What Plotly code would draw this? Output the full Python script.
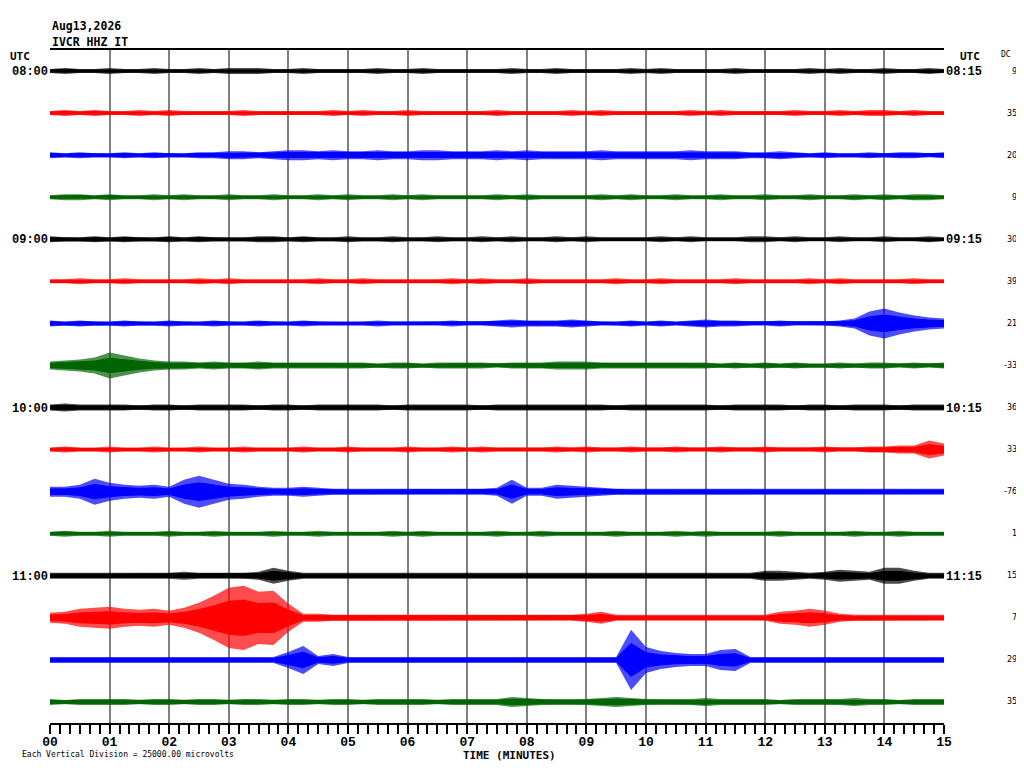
import numpy as np
import plotly.graph_objects as go

# helicorder: 16 lines of 15 minutes, IVCR HHZ IT, Aug13,2026 08:00-12:00 UTC
COLORS = ["#000000", "#ff0000", "#0000ff", "#006400"]
LEFT_LABELS = ["08:00", "09:00", "10:00", "11:00"]
RIGHT_LABELS = ["08:15", "09:15", "10:15", "11:15"]
DC = [9, 35, 20, 9, 30, 39, 21, -33, 36, 33, -76, 1, 15, 7, 29, 35]
MINUTE_TICKS = ["%02d" % m for m in range(16)]

# envelope half-amplitude every 15 s (61 values per line), 42 counts = 1 division
COUNTS_PER_DIV = 42.0
ENV = [
    # 08:00
    [2, 3, 2, 2, 3, 2, 2, 3, 2, 2, 3, 2, 3, 3, 3, 2, 2, 3, 2, 2, 2, 2, 3, 2, 2, 3, 2, 2, 2, 2, 2, 3,
     2, 2, 3, 2, 2, 2, 2, 3, 2, 3, 2, 2, 2, 2, 3, 2, 2, 2, 2, 3, 2, 3, 2, 2, 3, 2, 2, 3, 2],
    # 08:15
    [2, 3, 2, 3, 2, 2, 3, 2, 3, 2, 2, 2, 2, 3, 2, 2, 2, 2, 2, 3, 2, 3, 2, 2, 3, 2, 2, 2, 2, 2, 3, 2,
     2, 2, 2, 3, 2, 3, 2, 2, 2, 2, 2, 3, 2, 3, 2, 2, 2, 2, 3, 2, 2, 3, 2, 3, 3, 2, 3, 2, 2],
    # 08:30
    [3, 2, 3, 2, 2, 3, 2, 3, 2, 2, 3, 3, 4, 4, 3, 4, 5, 5, 4, 5, 4, 4, 5, 4, 4, 5, 5, 4, 4, 4, 5, 4,
     5, 4, 4, 4, 4, 5, 4, 4, 4, 4, 4, 5, 4, 4, 4, 3, 3, 4, 3, 2, 3, 2, 2, 3, 2, 3, 3, 2, 3],
    # 08:45
    [2, 3, 3, 2, 3, 2, 2, 3, 2, 3, 2, 2, 3, 2, 2, 3, 2, 2, 3, 2, 3, 2, 2, 3, 2, 3, 2, 2, 2, 2, 3, 2,
     3, 2, 2, 2, 2, 3, 2, 3, 2, 2, 3, 2, 2, 3, 2, 2, 3, 2, 2, 3, 2, 2, 3, 2, 3, 2, 3, 3, 2],
    # 09:00
    [3, 2, 2, 3, 2, 3, 2, 2, 3, 2, 3, 2, 2, 2, 3, 3, 2, 3, 2, 2, 3, 2, 2, 3, 2, 2, 3, 2, 2, 3, 2, 3,
     2, 2, 3, 2, 3, 2, 2, 2, 2, 3, 2, 3, 2, 2, 2, 3, 3, 2, 3, 2, 2, 3, 2, 2, 3, 2, 2, 3, 2],
    # 09:15
    [2, 2, 3, 2, 2, 3, 2, 2, 2, 2, 3, 2, 3, 2, 2, 2, 2, 2, 3, 2, 2, 3, 2, 2, 2, 2, 2, 3, 2, 3, 2, 2,
     3, 2, 2, 2, 2, 2, 3, 2, 2, 3, 2, 2, 2, 2, 3, 2, 2, 2, 2, 3, 2, 3, 2, 2, 2, 2, 3, 2, 2],
    # 09:30
    [3, 2, 3, 2, 2, 3, 2, 2, 3, 2, 2, 3, 2, 2, 3, 2, 2, 3, 2, 2, 2, 2, 3, 2, 2, 2, 2, 3, 2, 2, 3, 4,
     3, 3, 3, 4, 3, 2, 2, 3, 2, 3, 2, 3, 4, 3, 3, 2, 2, 3, 2, 2, 2, 3, 5, 12, 15, 11, 8, 6, 5],
    # 09:45
    [4, 5, 6, 8, 13, 10, 7, 5, 4, 4, 3, 4, 3, 3, 4, 3, 3, 3, 3, 3, 3, 3, 2, 3, 3, 2, 3, 3, 3, 3, 2, 3,
     3, 3, 4, 4, 4, 3, 3, 3, 3, 3, 3, 3, 3, 2, 3, 2, 3, 2, 3, 2, 2, 3, 2, 3, 3, 2, 3, 2, 3],
    # 10:00
    [3, 4, 3, 3, 3, 3, 2, 3, 3, 2, 3, 3, 3, 3, 2, 3, 3, 2, 3, 3, 3, 3, 3, 2, 3, 3, 3, 3, 3, 2, 3, 3,
     3, 3, 3, 3, 3, 3, 2, 3, 3, 3, 3, 3, 3, 2, 3, 3, 3, 3, 2, 3, 3, 2, 3, 3, 3, 2, 3, 3, 3],
    # 10:15
    [2, 3, 2, 2, 3, 2, 2, 3, 2, 2, 3, 2, 2, 3, 2, 2, 2, 3, 2, 2, 3, 2, 2, 2, 3, 2, 2, 3, 2, 3, 2, 2,
     2, 2, 3, 2, 3, 2, 2, 3, 2, 2, 3, 2, 2, 3, 2, 2, 3, 2, 2, 2, 3, 2, 2, 3, 3, 4, 4, 9, 6],
    # 10:30
    [5, 5, 7, 13, 9, 7, 6, 7, 5, 12, 16, 12, 8, 7, 5, 4, 4, 5, 4, 3, 3, 3, 3, 3, 3, 3, 3, 3, 3, 3, 4, 12,
     4, 4, 7, 6, 5, 4, 3, 3, 3, 3, 3, 3, 3, 3, 3, 3, 3, 3, 3, 3, 3, 3, 3, 3, 3, 3, 3, 3, 3],
    # 10:45
    [2, 3, 2, 2, 3, 2, 2, 2, 3, 2, 2, 3, 2, 2, 2, 3, 2, 2, 3, 2, 2, 2, 2, 3, 2, 3, 2, 2, 2, 2, 3, 2,
     2, 3, 2, 2, 2, 2, 3, 2, 2, 2, 3, 2, 3, 2, 2, 2, 2, 3, 2, 2, 2, 2, 3, 2, 2, 3, 2, 2, 2],
    # 11:00
    [3, 3, 3, 3, 3, 3, 3, 3, 3, 4, 3, 3, 3, 3, 4, 8, 5, 3, 3, 3, 3, 3, 3, 3, 3, 3, 3, 3, 3, 3, 3, 3,
     3, 3, 3, 3, 3, 3, 3, 3, 3, 3, 3, 3, 3, 3, 3, 3, 5, 5, 4, 3, 4, 6, 5, 4, 8, 8, 5, 3, 3],
    # 11:15
    [5, 6, 9, 10, 11, 9, 8, 9, 7, 10, 15, 22, 30, 32, 26, 27, 14, 4, 4, 3, 3, 3, 3, 3, 3, 3, 3, 3,
     3, 3, 3, 3, 3, 3, 3, 3, 4, 6, 3, 3, 3, 3, 3, 3, 3, 3, 3, 3, 3, 6, 7, 9, 7, 4, 3, 3, 3, 3, 3, 3, 3],
    # 11:30
    [3, 3, 3, 3, 3, 3, 3, 3, 3, 3, 3, 3, 3, 3, 3, 3, 8, 14, 4, 6, 3, 3, 3, 3, 3, 3, 3, 3, 3, 3, 3, 3,
     3, 3, 3, 3, 3, 3, 3, 30, 13, 9, 7, 6, 6, 10, 11, 3, 3, 3, 3, 3, 3, 3, 3, 3, 3, 3, 3, 3, 3],
    # 11:45
    [3, 2, 3, 3, 3, 3, 2, 3, 3, 2, 3, 3, 2, 3, 3, 2, 3, 3, 2, 3, 3, 2, 3, 3, 3, 3, 2, 3, 3, 3, 3, 5,
     4, 3, 3, 3, 3, 4, 5, 4, 3, 3, 3, 3, 4, 3, 3, 3, 3, 2, 3, 3, 3, 3, 4, 3, 3, 2, 3, 3, 3],
]

SANS = "DejaVu Sans Mono"
SERIF = "Liberation Mono"

fig = go.Figure()


def band(t, lo, hi, col, opacity, width):
    fig.add_trace(go.Scatter(
        x=np.concatenate([t, t[::-1]]), y=np.concatenate([hi, lo[::-1]]),
        mode="lines", fill="toself", fillcolor=col, opacity=opacity,
        line=dict(color=col, width=width), hoverinfo="skip", showlegend=False,
    ))


for i, env in enumerate(ENV):
    env = np.array(env) / COUNTS_PER_DIV
    t = np.linspace(0, 15, len(env))
    col = COLORS[i % 4]
    # sparse spikes reach the full envelope, the dense core is about half of it
    band(t, -i - env, -i + env, col, 0.7, 0)
    band(t, -i - env * 0.55, -i + env * 0.55, col, 1.0, 1)

# right hand axis carries the quarter-past labels
fig.add_trace(go.Scatter(x=[0], y=[0], yaxis="y2", mode="markers",
                         marker=dict(opacity=0), showlegend=False, hoverinfo="skip"))

# page body adds an 8px margin, so the figure is 8px smaller than the window
fig.update_layout(
    width=1016, height=760,
    margin=dict(l=42, r=80, t=42, b=45, autoexpand=False),
    plot_bgcolor="white", paper_bgcolor="white",
    font=dict(family=SANS, color="black"),
    xaxis=dict(
        range=[0, 15], tickvals=list(range(16)), ticktext=MINUTE_TICKS,
        showgrid=True, gridcolor="#808080", gridwidth=1.5,
        showline=True, linecolor="black", linewidth=1.5, mirror=True,
        ticks="outside", ticklen=9, tickcolor="black", tickwidth=1.5,
        minor=dict(dtick=1 / 6, ticks="outside", ticklen=9, tickcolor="black",
                   tickwidth=1.5, showgrid=False),
        tickfont=dict(size=13, family=SERIF, weight="bold"), ticklabelstandoff=-3,
        zeroline=False, fixedrange=True, automargin=False,
    ),
    yaxis=dict(
        range=[-15.5, 0.5], tickvals=[0, -4, -8, -12], ticktext=LEFT_LABELS,
        showgrid=False, zeroline=False, ticks="", showline=False,
        tickfont=dict(size=12, family=SERIF, weight="bold"), ticklabelstandoff=1,
        automargin=False,
    ),
    yaxis2=dict(
        range=[-15.5, 0.5], overlaying="y", side="right",
        tickvals=[0, -4, -8, -12], ticktext=RIGHT_LABELS,
        showgrid=False, zeroline=False, ticks="", showline=False,
        tickfont=dict(size=12, family=SERIF, weight="bold"), ticklabelstandoff=1,
        automargin=False,
    ),
    hovermode=False,
)

ann = [
    dict(text="Aug13,2026", x=0, y=1.0357, xanchor="left"),
    dict(text="IVCR HHZ IT", x=0, y=1.0119, xanchor="left"),
    dict(text="UTC", x=-0.047, y=0.9896, xanchor="left", size=11),
    dict(text="UTC", x=1.0157, y=0.9896, xanchor="left", size=11),
    dict(text="DC", x=1.0615, y=0.994, xanchor="left", size=8, bold=False),
    dict(text="TIME (MINUTES)", x=0.514, y=-0.049, xanchor="center", size=11),
    dict(text="Each Vertical Division = 25000.00 microvolts", x=-0.0336, y=-0.0461,
         xanchor="left", size=8, bold=False),
]
for a in ann:
    fig.add_annotation(
        text=a["text"], xref="paper", yref="paper", x=a["x"], y=a["y"],
        xanchor=a["xanchor"], yanchor="middle", showarrow=False,
        font=dict(size=a.get("size", 11.5), family=SANS,
                  weight="bold" if a.get("bold", True) else "normal"),
    )

for i, dc in enumerate(DC):
    fig.add_annotation(
        text=str(dc), xref="paper", yref="y", x=1.0839, y=-i,
        xanchor="right", yanchor="middle", showarrow=False,
        font=dict(size=8, family="DejaVu Sans"),
    )

fig.write_html("out.html", config={"displayModeBar": False})
